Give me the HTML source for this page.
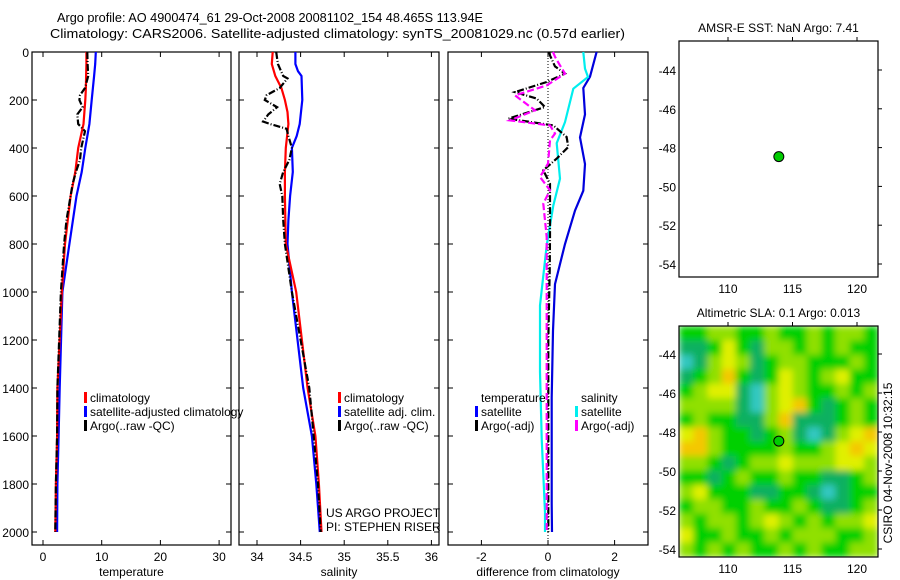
<!DOCTYPE html>
<html><head><meta charset="utf-8"><style>
html,body{margin:0;padding:0;background:#fff}
svg{display:block;font-family:"Liberation Sans",sans-serif}
text{font-size:12px;fill:#000}
</style></head><body>
<svg id="c" width="900" height="580" viewBox="0 0 900 580" xmlns="http://www.w3.org/2000/svg">
<defs>
<filter id="blur" x="-5%" y="-5%" width="110%" height="110%"><feGaussianBlur stdDeviation="3.5"/></filter>
<clipPath id="slaClip"><rect x="679" y="326" width="199" height="231"/></clipPath>
</defs>
<text x="57" y="22" textLength="426" lengthAdjust="spacingAndGlyphs" style="font-size:13px">Argo profile: AO 4900474_61 29-Oct-2008 20081102_154 48.465S 113.94E</text>
<text x="50" y="38" textLength="575" lengthAdjust="spacingAndGlyphs" style="font-size:13px">Climatology: CARS2006. Satellite-adjusted climatology: synTS_20081029.nc (0.57d earlier)</text>
</svg>
<script>
// ---- data ----
const depthT=[0,50,100,150,200,300,400,500,600,800,1000,1400,1600,1800,2000];
const tempClim=[7.4,7.4,7.35,7.3,7.2,6.9,6.0,5.5,4.7,3.75,3.2,2.45,2.4,2.2,2.1];
const tempSat=[9.0,8.9,8.7,8.5,8.3,7.9,7.2,6.6,5.7,4.5,3.3,2.85,2.65,2.45,2.4];
const depthTA=[0,50,100,150,180,200,230,260,300,330,400,450,500,550,600,700,800,1000,1400,1600,1800,2000];
const tempArgo=[7.55,7.6,7.7,7.15,6.3,6.2,6.75,5.85,6.0,7.15,6.5,6.3,5.6,5.05,4.7,4.0,3.6,3.05,2.45,2.4,2.2,2.1];
const depthS=[0,50,100,150,200,250,300,400,500,600,800,1000,1400,1600,1800,2000];
const salClim=[34.18,34.17,34.21,34.28,34.32,34.35,34.36,34.33,34.32,34.32,34.33,34.45,34.58,34.67,34.71,34.74];
const depthSS=[0,50,80,100,200,300,350,400,500,600,700,800,1000,1400,1600,1800,2000];
const salSat=[34.44,34.44,34.47,34.51,34.52,34.49,34.455,34.40,34.41,34.38,34.36,34.35,34.40,34.53,34.63,34.68,34.72];
const depthSA=[0,50,100,110,150,180,200,230,260,290,300,320,350,400,450,500,550,600,700,800,1000,1400,1600,1800,2000];
const salArgo=[34.22,34.24,34.30,34.35,34.26,34.11,34.09,34.23,34.13,34.07,34.15,34.34,34.36,34.40,34.37,34.30,34.26,34.29,34.30,34.32,34.40,34.60,34.65,34.70,34.73];
const depthD1=[0,103,150,260,356,467,578,661,800,967,1161,1439,1883,2000];
const dTempSat=[1.46,1.26,1.06,1.11,0.96,1.11,1.06,0.81,0.51,0.21,0.15,0.11,0.11,0.12];
const depthD2=[0,69,104,153,292,380,528,640,806,1056,1333,1611,1917,2000];
const dSalSat=[1.06,1.11,1.2,0.76,0.51,0.26,0.36,0.16,-0.04,-0.24,-0.24,-0.19,-0.09,-0.09];
const depthD3=[0,14,60,90,125,167,194,229,278,306,354,396,444,493,549,771,910,1200,2000];
const dTempArgo=[0.04,0.06,0.21,0.51,-0.04,-0.99,-0.34,-0.09,-1.19,0.16,0.56,0.61,0.26,-0.14,0.06,0.06,0.05,0.01,0.01];
const depthD4=[0,20,56,90,139,181,243,285,306,340,368,465,521,576,632,771,1200,2000];
const dSalArgo=[0.15,0.21,0.36,0.51,-0.04,-0.99,-0.39,-1.14,0.06,0.21,0.06,0.0,-0.24,0.06,-0.14,-0.04,-0.04,-0.04];
const depthTicks=[0,200,400,600,800,1000,1200,1400,1600,1800,2000];
const tTicks=[0,10,20,30];
const sTicks=[34,34.5,35,35.5,36];
const dTicks=[-2,0,2];
const lonTicks=[110,115,120];
const latTicks=[-44,-46,-48,-50,-52,-54];
const argoLon=113.94, argoLat=-48.465;
const slaGrid=[
[2,2,3,3,2,2,3,2,2,3,2,3,3,2],
[1,1,2,4,2,1,3,3,2,3,2,3,2,2],
[0,1,3,4,3,1,2,3,3,2,2,2,3,2],
[1,2,3,5,2,1,2,4,3,2,3,4,2,2],
[2,3,4,4,1,0,3,4,3,2,2,3,2,3],
[3,3,3,3,1,0,3,4,5,2,1,2,3,2],
[2,3,2,2,1,1,3,5,1,1,1,2,3,2],
[4,5,3,2,2,1,2,3,1,0,1,3,4,5],
[5,5,3,2,2,2,2,3,2,2,3,4,5,4],
[3,3,2,1,2,3,3,4,3,3,3,4,4,3],
[2,2,1,2,3,2,2,3,2,2,1,1,2,3],
[3,4,2,2,2,1,1,2,2,1,0,1,2,2],
[2,3,3,2,2,3,2,2,3,2,1,1,2,3],
[3,2,3,3,2,3,4,3,2,3,2,3,3,4],
[4,2,2,3,2,2,3,2,3,3,3,2,2,3],
[3,2,3,2,3,2,2,3,2,3,2,2,3,3]];
const slaColors=["#30c8c0","#10b060","#00d000","#90e000","#e0f000","#f4c800"];

const NS="http://www.w3.org/2000/svg";
const svg=document.getElementById('c');
function el(tag,attrs,parent){const e=document.createElementNS(NS,tag);for(const k in attrs)e.setAttribute(k,attrs[k]);(parent||svg).appendChild(e);return e;}
function txt(x,y,s,anchor,parent){const t=el('text',{x:x,y:y,'text-anchor':anchor||'start'},parent);t.textContent=s;return t;}

const yD=d=>52+d*0.24;
const panels=[
 {name:'temperature',x0:32,x1:231,sx:v=>43+v*5.87,ticks:tTicks,label:'temperature',labels:true},
 {name:'salinity',x0:239,x1:439,sx:v=>257+(v-34)*87.2,ticks:sTicks,label:'salinity',labels:false},
 {name:'difference',x0:448,x1:648,sx:v=>548+v*33.3,ticks:dTicks,label:'difference from climatology',labels:false}];
const yTop=52,yBot=545;
panels.forEach(p=>{
  const g=el('g',{});
  
  
  const r=el('rect',{x:p.x0,y:yTop,width:p.x1-p.x0,height:yBot-yTop,fill:'none',stroke:'#000','stroke-width':1.2},g);
  
  
  depthTicks.forEach(d=>{
    const y=yD(d);
    el('line',{x1:p.x0,y1:y,x2:p.x0+5,y2:y,stroke:'#000'},g);
    el('line',{x1:p.x1,y1:y,x2:p.x1-5,y2:y,stroke:'#000'},g);
    if(p.labels){const t=txt(p.x0-3,y+5,String(d),'end',g);
      
      }
  });
  p.ticks.forEach(v=>{
    const x=p.sx(v);
    el('line',{x1:x,y1:yTop,x2:x,y2:yTop+5,stroke:'#000'},g);
    el('line',{x1:x,y1:yBot,x2:x,y2:yBot-5,stroke:'#000'},g);
    const t=txt(x,561,String(v),'middle',g);
    
    
  });
  const t=txt((p.x0+p.x1)/2,576,p.label,'middle',g);
  
  
});
function line(p,depths,vals,color,dash,name){
  const pts=depths.map((d,i)=>panels[p].sx(vals[i]).toFixed(1)+','+yD(d).toFixed(1)).join(' ');
  const a={points:pts,fill:'none',stroke:color,'stroke-width':2.2};
  if(dash)a['stroke-dasharray']=dash;
  const e=el('polyline',a);
  
  
}
const zl=el('line',{x1:panels[2].sx(0),y1:yTop,x2:panels[2].sx(0),y2:yBot,stroke:'#000','stroke-width':1,'stroke-dasharray':'1,2'});


line(0,depthT,tempSat,'#0000ff',null,'temp-satellite-adjusted-line');
line(0,depthT,tempClim,'#ff0000',null,'temp-climatology-line');
line(0,depthTA,tempArgo,'#000',"7,2,1,2",'temp-argo-line');
line(1,depthSS,salSat,'#0000ff',null,'sal-satellite-adjusted-line');
line(1,depthS,salClim,'#ff0000',null,'sal-climatology-line');
line(1,depthSA,salArgo,'#000',"7,2,1,2",'sal-argo-line');
line(2,depthD1,dTempSat,'#0000dd',null,'diff-temp-satellite-line');
line(2,depthD2,dSalSat,'#00eeee',null,'diff-sal-satellite-line');
line(2,depthD3,dTempArgo,'#000',"7,2,1,2",'diff-temp-argo-line');
line(2,depthD4,dSalArgo,'#ff00ff',"7,3",'diff-sal-argo-line');

function legendEntry(x,y,color,label,name){
  const g=el('g',{});
  
  
  if(color)el('rect',{x:x-6,y:y-10,width:3,height:11,fill:color},g);
  txt(x,y,label,'start',g);
}
legendEntry(90,402,'#ff0000','climatology','legend-entry-climatology');
legendEntry(90,416,'#0000ff','satellite-adjusted climatology','legend-entry-satellite-adjusted');
legendEntry(90,430,'#000','Argo(..raw -QC)','legend-entry-argo');
legendEntry(344,402,'#ff0000','climatology','legend-entry-sal-climatology');
legendEntry(344,416,'#0000ff','satellite adj. clim.','legend-entry-sal-satellite');
legendEntry(344,430,'#000','Argo(..raw -QC)','legend-entry-sal-argo');
legendEntry(481,402,null,'temperature','legend-header-temperature');
legendEntry(481,416,'#0000ff','satellite','legend-entry-diff-temp-satellite');
legendEntry(481,430,'#000','Argo(-adj)','legend-entry-diff-temp-argo');
legendEntry(581,402,null,'salinity','legend-header-salinity');
legendEntry(581,416,'#00eeee','satellite','legend-entry-diff-sal-satellite');
legendEntry(581,430,'#ff00ff','Argo(-adj)','legend-entry-diff-sal-argo');
const c1=txt(326,517,'US ARGO PROJECT','start');


const c2=txt(326,531,'PI: STEPHEN RISER','start');



// ---- maps ----
function map(y0,y1,lat44,degPx,title,name,heat){
  const g=el('g',{});
  
  
  const x0=679,x1=878;
  const lx=v=>728+(v-110)*12.9;
  const ly=v=>lat44+(-44-v)*degPx;
  if(heat){
    const cg=el('g',{'clip-path':'url(#slaClip)'},g);
    const hg=el('g',{filter:'url(#blur)'},cg);
    
    
    const nr=slaGrid.length,nc=slaGrid[0].length,cw=(x1-x0)/nc,ch=(y1-y0)/nr;
    slaGrid.forEach((row,i)=>row.forEach((v,j)=>{
      const r=el('rect',{x:x0+j*cw,y:y0+i*ch,width:cw+0.6,height:ch+0.6,fill:slaColors[v]},hg);
      
      
    }));
  }
  el('rect',{x:x0,y:y0,width:x1-x0,height:y1-y0,fill:'none',stroke:'#000','stroke-width':1.2},g);
  lonTicks.forEach(v=>{const x=lx(v);
    el('line',{x1:x,y1:y0,x2:x,y2:y0-4,stroke:'#000'},g);
    const t=txt(x,y1+16,String(v),'middle',g);
    
    });
  latTicks.forEach(v=>{const y=ly(v);
    el('line',{x1:x1,y1:y,x2:x1+4,y2:y,stroke:'#000'},g);
    const t=txt(x0-3,y+5,String(v),'end',g);
    
    });
  const tt=txt((x0+x1)/2,y0-9,title,'middle',g);
  
  
  const m=el('circle',{cx:lx(argoLon),cy:ly(argoLat),r:5,fill:'#00cc00',stroke:'#000','stroke-width':1},g);
  
  
}
map(41,277,70,19.4,'AMSR-E SST: NaN Argo: 7.41','sst-map',false);
map(326,557,354,19.5,'Altimetric SLA: 0.1 Argo: 0.013','sla-map',true);
const ts=txt(0,0,'CSIRO 04-Nov-2008 10:32:15','middle');
ts.setAttribute('transform','translate(892,463) rotate(-90)');


</script>
</body></html>
